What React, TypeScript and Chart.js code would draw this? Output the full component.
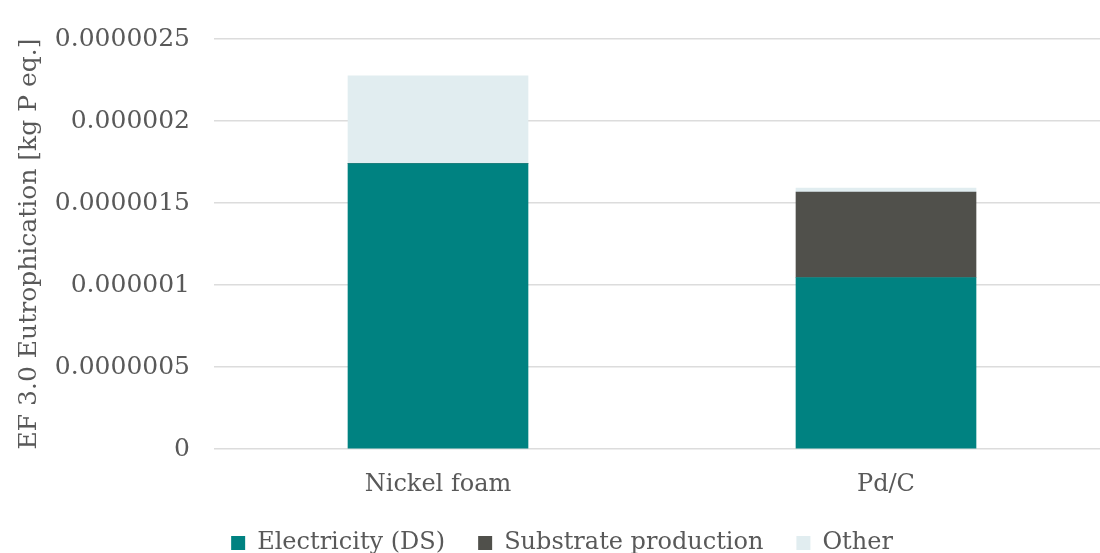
import React, { useEffect, useRef } from "react";
import { Chart, registerables } from "chart.js";

Chart.register(...registerables);

const categories = ["Nickel foam", "Pd/C"];
const electricityDS = [0.00000174, 0.000001046];
const substrateProduction = [0, 0.00000052];
const other = [0.000000535, 0.000000025];
const yTickLabels = ["0", "0.0000005", "0.000001", "0.0000015", "0.000002", "0.0000025"];
const yMax = 0.0000025;
const yStep = 0.0000005;
const yTitle = "EF 3.0 Eutrophication [kg P eq.]";

const FONT = "'DejaVu Serif', Georgia, serif";
const TEXT = "#595959";

export default function App() {
  const ref = useRef<HTMLCanvasElement | null>(null);

  useEffect(() => {
    if (!ref.current) return;
    const chart = new Chart(ref.current, {
      type: "bar",
      data: {
        labels: categories,
        datasets: [
          { label: "Electricity (DS)", data: electricityDS, backgroundColor: "#008281", borderWidth: 0 },
          { label: "Substrate production", data: substrateProduction, backgroundColor: "#50504b", borderWidth: 0 },
          { label: "Other", data: other, backgroundColor: "#e1edf0", borderWidth: 0 },
        ],
      },
      options: {
        responsive: false,
        animation: false,
        devicePixelRatio: 1,
        layout: { padding: { top: 37, left: 14, right: 0, bottom: 0 } },
        datasets: { bar: { barThickness: 180 } },
        plugins: {
          tooltip: { enabled: false },
          legend: {
            position: "bottom",
            labels: {
              font: { family: FONT, size: 24 },
              color: TEXT,
              boxWidth: 14,
              boxHeight: 14,
              padding: 33,
            },
          },
        },
        scales: {
          x: {
            stacked: true,
            grid: { display: false, drawTicks: false },
            border: { display: false },
            ticks: { font: { family: FONT, size: 24 }, color: TEXT, padding: 21 },
            afterFit: (s: any) => { s.height = 49; },
          },
          y: {
            stacked: true,
            min: 0,
            max: yMax,
            afterBuildTicks: (s: any) => {
              s.ticks = yTickLabels.map((_, i) => ({ value: i * yStep }));
            },
            grid: { color: "#dcdcdc", lineWidth: 1.5, drawTicks: false },
            border: { display: false },
            ticks: {
              font: { family: FONT, size: 25 },
              color: TEXT,
              padding: 24,
              callback: (_v: any, i: number) => yTickLabels[i],
            },
            title: {
              display: true,
              text: yTitle,
              font: { family: FONT, size: 25 },
              color: TEXT,
              padding: { top: 0, bottom: 0 },
            },
            afterFit: (s: any) => { s.width = 200; },
          },
        },
      },
    });
    return () => chart.destroy();
  }, []);

  return (
    <div style={{ position: "fixed", left: 0, top: 0, width: 1100, height: 553, overflow: "hidden", background: "#fff" }}>
      <canvas ref={ref} width={1110} height={565} style={{ display: "block", width: 1110, height: 565 }} />
    </div>
  );
}
